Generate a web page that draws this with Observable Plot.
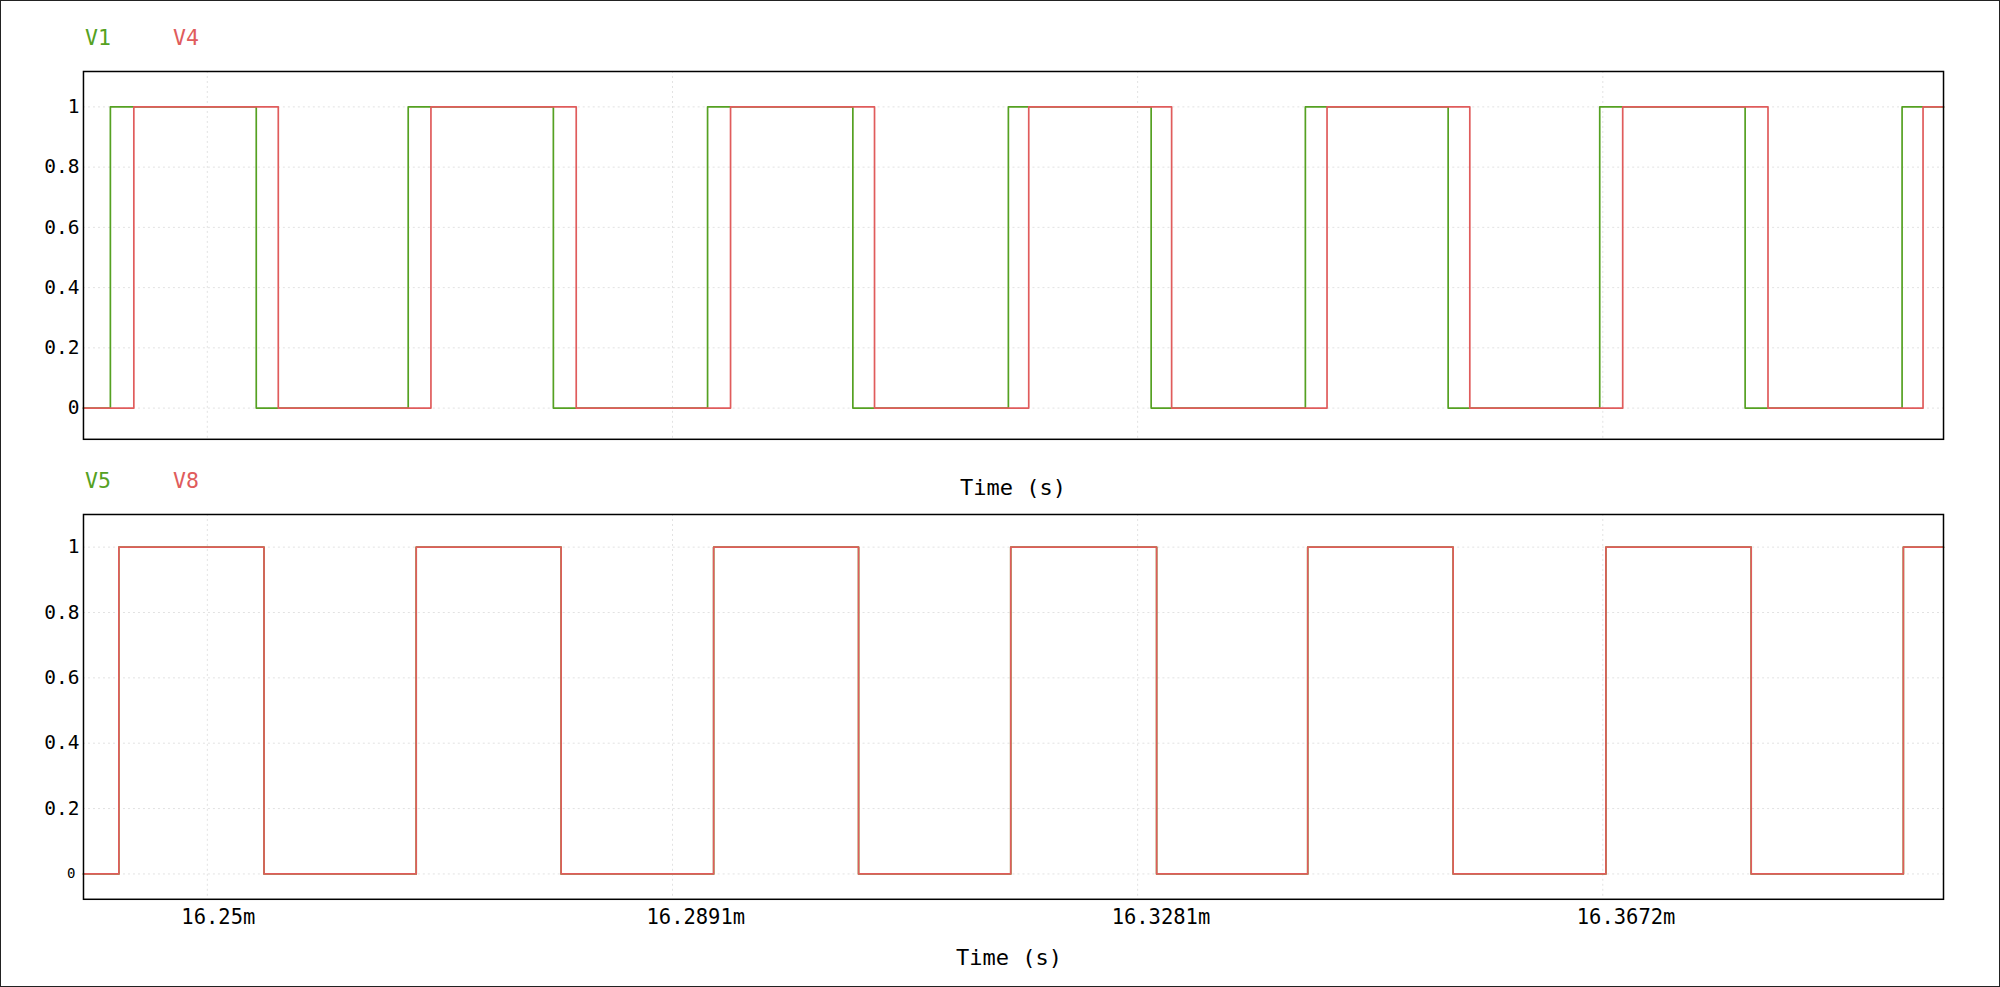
<!DOCTYPE html>
<html>
<head>
<meta charset="utf-8">
<script src="https://cdn.jsdelivr.net/npm/d3@7"></script>
<script src="https://cdn.jsdelivr.net/npm/@observablehq/plot@0.6"></script>
<style>
  html, body { margin: 0; padding: 0; background: #fff; }
  #page { position: relative; width: 2000px; height: 987px; box-sizing: border-box; border: 1px solid #222; overflow: hidden; font-family: "DejaVu Sans Mono", monospace; }
  .abs { position: absolute; }
  .leg { font-size: 21.5px; line-height: 1; white-space: nowrap; }
  .xlab { font-size: 22px; line-height: 1; white-space: nowrap; transform: translateX(-50%); color: #000; }
</style>
</head>
<body>
<div id="page">
  <div class="abs leg" style="left:84px; top:26px; color:#55a122;">V1</div>
  <div class="abs leg" style="left:172px; top:26px; color:#e05c5c;">V4</div>
  <div class="abs" id="top" style="left:-1px; top:59px;"></div>
  <div class="abs xlab" style="left:1012px; top:476px;">Time (s)</div>
  <div class="abs leg" style="left:84px; top:469px; color:#55a122;">V5</div>
  <div class="abs leg" style="left:172px; top:469px; color:#e05c5c;">V8</div>
  <div class="abs" id="bottom" style="left:-1px; top:499px;"></div>
  <div class="abs xlab" style="left:1008px; top:946px;">Time (s)</div>
</div>
<script>
// ---- data (time in ms) ----
const xTicks = [16.25, 16.2890625, 16.328125, 16.3671875];
const xTickLabels = ["16.25m", "16.2891m", "16.3281m", "16.3672m"];
const yTicks = [0, 0.2, 0.4, 0.6, 0.8, 1];
const yTickLabels = ["0", "0.2", "0.4", "0.6", "0.8", "1"];

const levels = [0, 1, 0, 1, 0, 1, 0, 1, 0, 1, 0, 1, 0, 1, 1];

const v1Time = [16.2396, 16.24186, 16.25411, 16.26687, 16.27906, 16.29201, 16.30421, 16.31727, 16.32926, 16.34221, 16.35420, 16.36693, 16.37914, 16.39232, 16.3958];
const v4Time = [16.2396, 16.24383, 16.25596, 16.26878, 16.28098, 16.29394, 16.30603, 16.31898, 16.33098, 16.34403, 16.35602, 16.36886, 16.38106, 16.39408, 16.3958];
const v5Time = [16.2396, 16.24257, 16.25476, 16.26754, 16.27971, 16.29252, 16.30469, 16.31747, 16.32972, 16.34241, 16.35462, 16.36745, 16.37965, 16.39243, 16.3958];
const v8Time = [16.2396, 16.24257, 16.25476, 16.26754, 16.27971, 16.29252, 16.30469, 16.31747, 16.32972, 16.34241, 16.35462, 16.36745, 16.37965, 16.39243, 16.3958];

const GREEN = "#55a122";
const RED = "#e05c5c";

function series(t, v) { return t.map((d, i) => ({t: d, v: v[i]})); }

const xDomain = [16.2396, 16.3958];
const gridStyle = {stroke: "#e2e2e2", strokeOpacity: 1, strokeDasharray: "2,3"};

function panel(a, b, yDomain, height, mt, mb, showX) {
  const marks = [
    Plot.gridY(yTicks, gridStyle),
    Plot.gridX(xTicks, gridStyle),
    Plot.axisY(yTicks, {tickSize: 0, tickPadding: 4, fontSize: 19.5, label: null,
      tickFormat: d => yTickLabels[yTicks.indexOf(d)]}),
    Plot.line(a, {x: "t", y: "v", curve: "step-after", stroke: GREEN, strokeWidth: 1.7}),
    Plot.line(b, {x: "t", y: "v", curve: "step-after", stroke: RED, strokeWidth: 1.7}),
    Plot.frame({stroke: "#000", strokeWidth: 1.5})
  ];
  if (showX) {
    marks.push(Plot.axisX(xTicks, {tickSize: 0, tickPadding: 10, fontSize: 20.5, label: null,
      textAnchor: "start", dx: -26,
      tickFormat: d => xTickLabels[xTicks.indexOf(d)]}));
  }
  return Plot.plot({
    width: 2000, height,
    marginTop: mt, marginBottom: mb, marginLeft: 83, marginRight: 56,
    x: {domain: xDomain, axis: showX ? undefined : null},
    y: {domain: yDomain},
    style: {fontFamily: "DejaVu Sans Mono", background: "transparent", color: "#000", overflow: "visible"},
    marks
  });
}

const topSvg = panel(series(v1Time, levels), series(v4Time, levels), [-0.1036, 1.1175], 400, 11, 21, false);
document.getElementById("top").appendChild(topSvg);

const bottomSvg = panel(series(v5Time, levels), series(v8Time, levels), [-0.0776, 1.0999], 440, 14, 41, true);
document.getElementById("bottom").appendChild(bottomSvg);

// the lowest tick label of the lower panel is drawn smaller in the original
d3.select(bottomSvg).selectAll('g[aria-label="y-axis tick label"] text')
  .filter(function () { return this.textContent === "0"; })
  .attr("font-size", 14).attr("dx", -4);
</script>
</body>
</html>
